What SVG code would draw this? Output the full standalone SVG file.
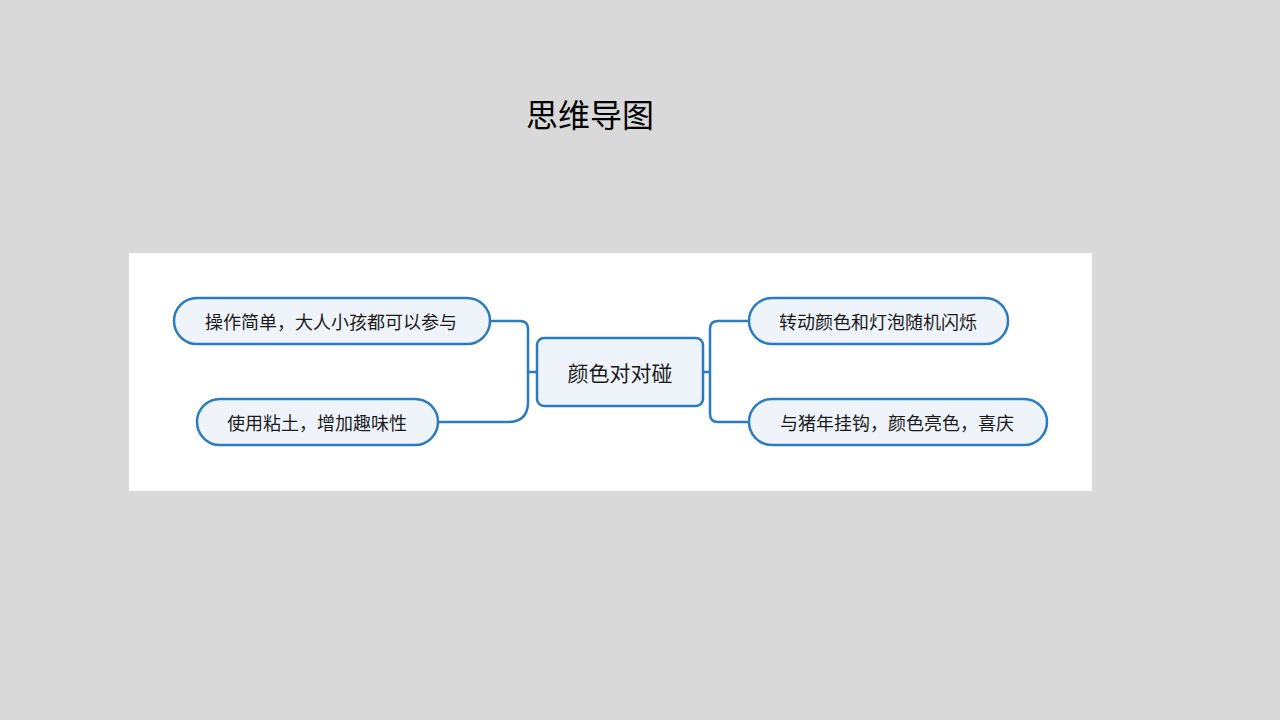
<svg xmlns="http://www.w3.org/2000/svg" width="1280" height="720" viewBox="0 0 1280 720">
<style>
.n{fill:#eef4fa;stroke:#2b7bbf;stroke-width:2.5}
.t{font-family:"Noto Sans CJK SC",sans-serif;fill:#1a1a1a;text-anchor:middle;dominant-baseline:central}
.c{fill:none;stroke:#2b7bbf;stroke-width:2.5}
</style>
<rect width="1280" height="720" fill="#d9d9d9"/>
<text x="590" y="113" class="t" style="font-size:32px;fill:#000">思维导图</text>
<rect x="129" y="253" width="963" height="238" fill="#fff"/>
<g id="connectors">
<path class="c" d="M490,321 H520 Q528,321 528,329 V372 H537"/>
<path class="c" d="M438,422 H508 Q528,422 528,402 V372"/>
<path class="c" d="M703,372 H710 M749,321 H718 Q710,321 710,329 V414 Q710,422 718,422 H749"/>
</g>
<g id="center"><rect class="n" x="537" y="338" width="166" height="68" rx="7"/><text class="t" x="620" y="372" font-size="21">颜色对对碰</text></g>
<g id="n1"><rect class="n" x="174" y="298" width="316" height="46" rx="23"/><text class="t" x="331" y="321" font-size="18">操作简单，大人小孩都可以参与</text></g>
<g id="n2"><rect class="n" x="197" y="399" width="241" height="46" rx="23"/><text class="t" x="317" y="422" font-size="18">使用粘土，增加趣味性</text></g>
<g id="n3"><rect class="n" x="749" y="298" width="259" height="46" rx="23"/><text class="t" x="878" y="321" font-size="18">转动颜色和灯泡随机闪烁</text></g>
<g id="n4"><rect class="n" x="749" y="399" width="298" height="46" rx="23"/><text class="t" x="897" y="422" font-size="18">与猪年挂钩，颜色亮色，喜庆</text></g>
</svg>
